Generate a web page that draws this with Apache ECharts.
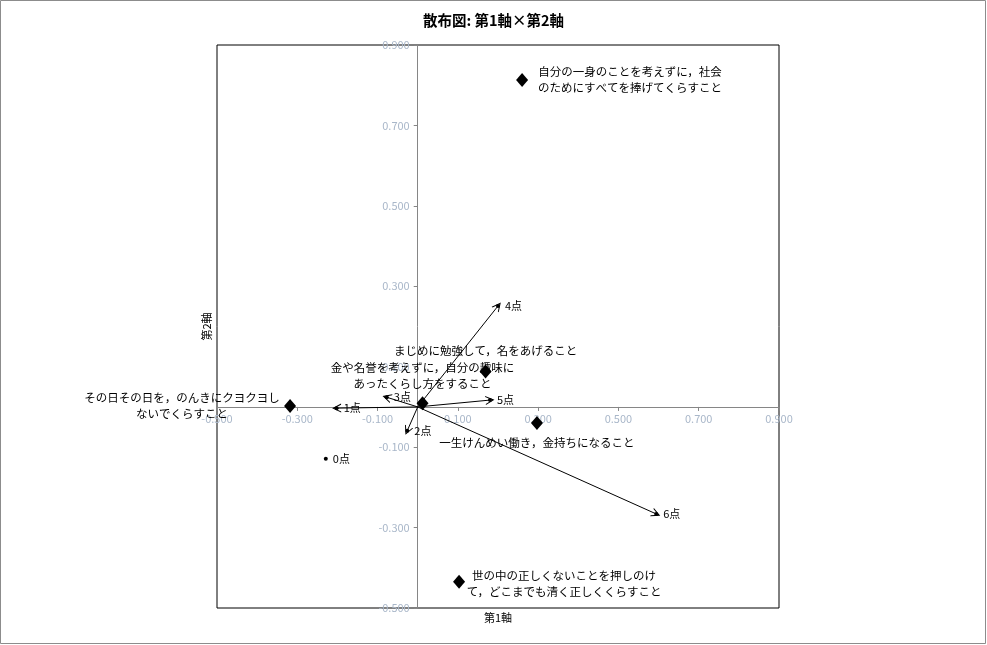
<!DOCTYPE html>
<html>
<head>
<meta charset="utf-8">
<script src="https://cdn.jsdelivr.net/npm/echarts@6/dist/echarts.min.js"></script>
<style>
html,body{margin:0;padding:0;background:#fff;}
#chart{width:987px;height:645px;}
</style>
</head>
<body>
<div id="chart"></div>
<script>
// Item points (diamonds)
const itemNames = [
  '自分の一身のことを考えずに，社会\nのためにすべてを捧げてくらすこと',
  '世の中の正しくないことを押しのけ\nて，どこまでも清く正しくくらすこと',
  'その日その日を，のんきにクヨクヨし\nないでくらすこと',
  '一生けんめい働き，金持ちになること',
  '金や名誉を考えずに，自分の趣味に\nあったくらし方をすること',
  'まじめに勉強して，名をあげること'
];
const itemX = [0.260, 0.103, -0.318, 0.297, 0.012, 0.169];
const itemY = [0.813, -0.435, 0.002, -0.040, 0.009, 0.088];

// Score points (small dots; 1..6 drawn as vectors from origin)
const scoreNames = ['0点', '1点', '2点', '3点', '4点', '5点', '6点'];
const scoreX = [-0.229, -0.202, -0.026, -0.077, 0.200, 0.180, 0.594];
const scoreY = [-0.129, -0.003, -0.059, 0.024, 0.251, 0.017, -0.266];

// Tick labels
const xTicks = [-0.5, -0.3, -0.1, 0.1, 0.3, 0.5, 0.7, 0.9];
const yTicks = [-0.5, -0.3, -0.1, 0.1, 0.3, 0.5, 0.7, 0.9];
const xMin = -0.5, xMax = 0.9, yMin = -0.5, yMax = 0.9;

const FONT = '"Noto Sans CJK JP", "Noto Sans", sans-serif';
const tickColor = '#a9b7c9';
const axisGray = '#868686';

const G = {left: 217, top: 45, width: 562, height: 563};
// shift each axis (line, ticks, labels, name) onto the other axis's zero
const xAxisOffset = -G.height * (0 - yMin) / (yMax - yMin);
const yAxisOffset = -G.width * (0 - xMin) / (xMax - xMin);

const labelLayouts = [
  {position: 'inside', align: 'center', verticalAlign: 'middle', offset: [108, 0]},
  {position: 'inside', align: 'center', verticalAlign: 'middle', offset: [105, 2]},
  {position: 'inside', align: 'center', verticalAlign: 'middle', offset: [-108, 0]},
  {position: 'bottom', distance: 5},
  {position: 'top', distance: 5},
  {position: 'top', distance: 6}
];

const itemData = itemNames.map((n, i) => ({
  name: n,
  value: [itemX[i], itemY[i]],
  label: Object.assign({show: true}, labelLayouts[i])
}));

const scoreData = scoreNames.map((n, i) => ({name: n, value: [scoreX[i], scoreY[i]]}));

const arrowData = scoreNames.slice(1).map((n, k) => ({
  coords: [[0, 0], [scoreX[k + 1], scoreY[k + 1]]]
}));

const chart = echarts.init(document.getElementById('chart'), null, {renderer: 'canvas'});
chart.setOption({
  animation: false,
  backgroundColor: '#fff',
  textStyle: {fontFamily: FONT},
  title: {
    text: '散布図: 第1軸×第2軸',
    left: 'center',
    top: 8,
    textStyle: {fontSize: 14.5, fontWeight: 'bold', color: '#000', fontFamily: FONT}
  },
  graphic: [{
    type: 'rect',
    shape: {x: 0.5, y: 0.5, width: 985, height: 643},
    style: {fill: 'none', stroke: '#8c8c8c', lineWidth: 1},
    silent: true,
    z: -10
  }],
  grid: {
    left: G.left, top: G.top, width: G.width, height: G.height,
    containLabel: false,
    outerBoundsMode: 'none',
    show: true, borderColor: '#000', borderWidth: 1, backgroundColor: 'transparent'
  },
  xAxis: {
    type: 'value', min: xMin, max: xMax,
    position: 'bottom', offset: xAxisOffset,
    name: '第1軸', nameLocation: 'middle', nameGap: 205,
    nameTextStyle: {color: '#000', fontSize: 11, fontFamily: FONT},
    splitLine: {show: false},
    axisLine: {onZero: false, lineStyle: {color: axisGray, width: 1}},
    axisTick: {customValues: xTicks, length: 4, lineStyle: {color: axisGray}},
    axisLabel: {customValues: xTicks, formatter: v => v.toFixed(3), color: tickColor, fontSize: 11, margin: 6, fontFamily: FONT}
  },
  yAxis: {
    type: 'value', min: yMin, max: yMax,
    position: 'left', offset: yAxisOffset,
    name: '第2軸', nameLocation: 'middle', nameGap: 205,
    nameTextStyle: {color: '#000', fontSize: 11, fontFamily: FONT},
    splitLine: {show: false},
    axisLine: {onZero: false, lineStyle: {color: axisGray, width: 1}},
    axisTick: {customValues: yTicks, length: 4, lineStyle: {color: axisGray}},
    axisLabel: {customValues: yTicks, formatter: v => v.toFixed(3), color: tickColor, fontSize: 11, margin: 8, fontFamily: FONT}
  },
  series: [
    {
      type: 'lines',
      coordinateSystem: 'cartesian2d',
      polyline: false,
      symbol: ['none', 'path://M0,10 L5,0 L10,10 L8.8,10 L5,2.6 L1.2,10 Z'],
      symbolSize: 9,
      lineStyle: {color: '#000', width: 1, opacity: 1},
      data: arrowData,
      z: 3
    },
    {
      type: 'scatter',
      symbol: 'circle',
      symbolSize: 4,
      itemStyle: {color: '#000', opacity: 1},
      label: {show: true, position: 'right', distance: 5, formatter: '{b}', color: '#000', fontSize: 11, fontFamily: FONT},
      data: scoreData,
      z: 4
    },
    {
      type: 'scatter',
      symbol: 'diamond',
      symbolSize: [12, 14],
      itemStyle: {color: '#000', opacity: 1},
      label: {show: true, formatter: '{b}', color: '#000', fontSize: 11.5, lineHeight: 16, fontFamily: FONT},
      data: itemData,
      z: 5
    }
  ]
});
</script>
</body>
</html>
